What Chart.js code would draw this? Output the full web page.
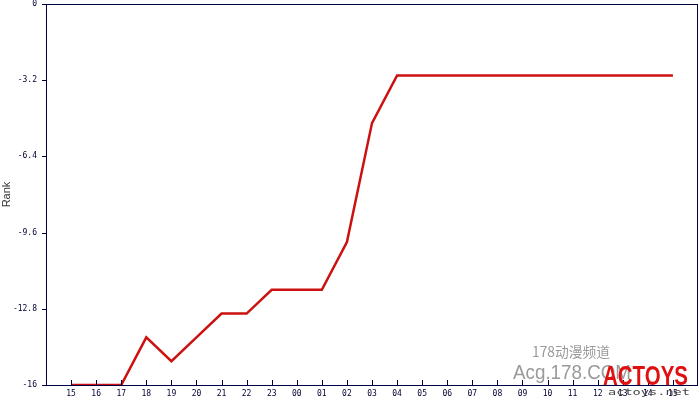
<!DOCTYPE html>
<html>
<head>
<meta charset="utf-8">
<script src="https://cdn.jsdelivr.net/npm/chart.js@4/dist/chart.umd.min.js"></script>
<style>
  html, body { margin: 0; padding: 0; background: #fff; }
  #wrap { width: 700px; height: 400px; }
</style>
</head>
<body>
<div id="wrap"><canvas id="rank-chart"></canvas></div>
<script>
const hours = ['15','16','17','18','19','20','21','22','23','00','01','02','03','04','05','06','07','08','09','10','11','12','13','14','15'];
const rank = [-16,-16,-16,-14,-15,-14,-13,-13,-12,-12,-12,-10,-5,-3,-3,-3,-3,-3,-3,-3,-3,-3,-3,-3,-3];
const yTicks = [0,-3.2,-6.4,-9.6,-12.8,-16];

const axisColor = '#000040';

// fits text into a given width (watermark)
function fitText(ctx, text, x, y, w) {
  const m = ctx.measureText(text).width;
  ctx.save();
  ctx.translate(x, y);
  ctx.scale(w / m, 1);
  ctx.fillText(text, 0, 0);
  ctx.restore();
}

// box round the plot + inward x ticks
const framePlugin = {
  id: 'frame',
  afterDraw(chart) {
    const { ctx, chartArea: a, scales } = chart;
    ctx.save();
    ctx.strokeStyle = axisColor;
    ctx.lineWidth = 1;
    ctx.strokeRect(a.left + 0.5, a.top + 0.5, a.right - a.left - 1, a.bottom - a.top);
    ctx.beginPath();
    hours.forEach((h, i) => {
      const x = Math.round(scales.x.getPixelForValue(i)) + 0.5;
      ctx.moveTo(x, a.bottom);
      ctx.lineTo(x, a.bottom - 5);
    });
    yTicks.forEach(v => {
      const y = Math.round(scales.y.getPixelForValue(v)) + 0.5;
      ctx.moveTo(a.left - 4, y);
      ctx.lineTo(a.left, y);
    });
    ctx.stroke();

    // watermark
    ctx.fillStyle = '#9a9a9a';
    ctx.font = '14px "Noto Sans CJK SC"';
    fitText(ctx, '178动漫频道', 532, 357, 78);
    ctx.font = '20px "Liberation Sans"';
    fitText(ctx, 'Acg.178.COM', 513, 379, 118);
    ctx.fillStyle = '#e01010';
    ctx.font = 'bold 27px "Liberation Sans"';
    fitText(ctx, 'ACTOYS', 603, 385, 85);
    ctx.fillStyle = '#444';
    ctx.font = '9px "DejaVu Sans Mono"';
    fitText(ctx, 'actoys.net', 608, 395, 82);
    ctx.restore();
  }
};

new Chart(document.getElementById('rank-chart'), {
  type: 'line',
  data: {
    datasets: [{
      data: rank.map((v, i) => ({ x: i, y: v })),
      borderColor: '#cc1111',
      borderWidth: 2.5,
      pointRadius: 0,
      tension: 0,
      fill: false
    }]
  },
  options: {
    responsive: true,
    maintainAspectRatio: false,
    animation: false,
    layout: { padding: { top: 4, right: 2, left: 0, bottom: 0 } },
    plugins: { legend: { display: false }, tooltip: { enabled: false } },
    scales: {
      x: {
        type: 'linear',
        min: -1,
        max: hours.length,
        afterBuildTicks: s => { s.ticks = hours.map((h, i) => ({ value: i })); },
        afterFit: s => { s.height = 15; s.paddingLeft = 0; s.paddingRight = 0; },
        grid: { display: false },
        border: { display: false },
        ticks: {
          autoSkip: false,
          maxRotation: 0,
          padding: -4,
          color: '#000033',
          font: { family: 'DejaVu Sans Mono', size: 8 },
          callback: v => hours[v]
        }
      },
      y: {
        min: -16,
        max: 0,
        afterBuildTicks: s => { s.ticks = yTicks.map(v => ({ value: v })); },
        afterFit: s => { s.width = 46; s.paddingTop = 0; s.paddingBottom = 0; },
        grid: { display: false },
        border: { display: false },
        title: { display: true, text: 'Rank', color: '#333', font: { family: 'Liberation Sans', size: 11 }, padding: 0 },
        ticks: {
          padding: 1,
          color: '#000033',
          font: { family: 'DejaVu Sans Mono', size: 8 },
          callback: v => String(v)
        }
      }
    }
  },
  plugins: [framePlugin]
});
</script>
</body>
</html>
